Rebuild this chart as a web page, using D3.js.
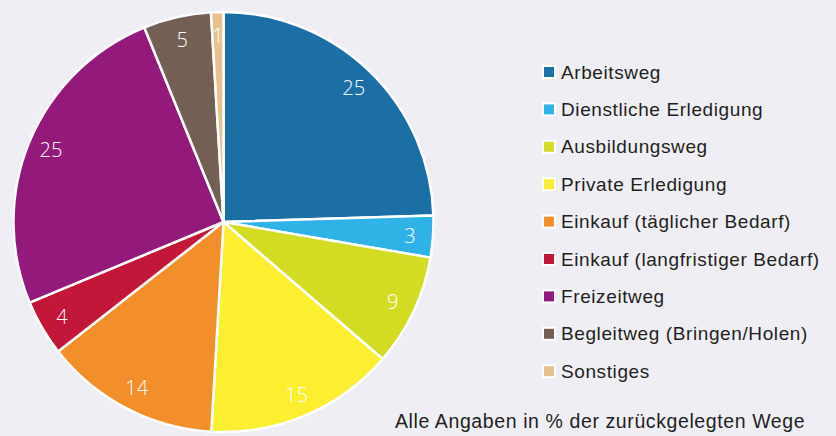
<!DOCTYPE html>
<html><head><meta charset="utf-8">
<script src="https://cdn.jsdelivr.net/npm/d3@7"></script>
<style>
html,body{margin:0;padding:0;background:#efeef5;}
svg{display:block;}
</style></head>
<body>
<script>
const categories = ["Arbeitsweg","Dienstliche Erledigung","Ausbildungsweg","Private Erledigung","Einkauf (täglicher Bedarf)","Einkauf (langfristiger Bedarf)","Freizeitweg","Begleitweg (Bringen/Holen)","Sonstiges"];
// slice shares (%)
const values = [24.5,3.2,8.6,14.6,13.5,4.3,25.1,5.2,0.95];
// displayed (rounded) labels
const labels = ["25","3","9","15","14","4","25","5","1"];
const colors = ["#1c6fa5","#2fb2e6","#d3db22","#fcee31","#f38f2a","#c3173a","#93197b","#745f55","#e9c08f"];
const footnote = "Alle Angaben in % der zurückgelegten Wege";

const W = 836, H = 436;
const svg = d3.select("body").append("svg").attr("width", W).attr("height", H);
svg.append("rect").attr("width", W).attr("height", H).attr("fill", "#efeef5");

const cx = 223.5, cy = 222, R = 210;
const data = categories.map((c,i)=>({cat:c, value:values[i], label:labels[i], color:colors[i]}));
const pie = d3.pie().value(d=>d.value).sort(null);
const arcs = pie(data);
const arc = d3.arc().innerRadius(0).outerRadius(R);
const labelArc = d3.arc().innerRadius(187).outerRadius(187);

const g = svg.append("g").attr("transform", `translate(${cx},${cy})`);
g.selectAll("path").data(arcs).join("path")
  .attr("d", arc).attr("fill", d=>d.data.color)
  .attr("stroke", "#ffffff").attr("stroke-width", 2.5).attr("stroke-linejoin","round");

g.selectAll("text.lbl").data(arcs).join("text").attr("class","lbl")
  .attr("transform", d=>`translate(${labelArc.centroid(d)})`)
  .attr("text-anchor","middle").attr("dominant-baseline","central")
  .attr("font-family","'Open Sans', sans-serif").attr("font-weight",300)
  .attr("font-size",20).attr("fill","#ffffff")
  .text(d=>d.data.label);

const leg = svg.append("g").attr("transform","translate(543,72)");
const rowH = 37.4;
const items = leg.selectAll("g").data(data).join("g")
  .attr("transform",(d,i)=>`translate(0,${i*rowH})`);
items.append("rect").attr("x",0).attr("y",-6).attr("width",12).attr("height",12)
  .attr("fill",d=>d.color).attr("stroke","#ffffff").attr("stroke-width",2);
items.append("text").attr("x",18).attr("y",0).attr("dominant-baseline","central")
  .attr("font-family","'Liberation Sans', Arial, sans-serif").attr("font-size",19)
  .attr("letter-spacing","0.6px")
  .attr("fill","#231f20").text(d=>d.cat);

svg.append("text").attr("x",395).attr("y",428)
  .attr("font-family","'Liberation Sans', Arial, sans-serif").attr("font-size",19.5)
  .attr("letter-spacing","0.6px")
  .attr("fill","#231f20").text(footnote);
</script>
</body></html>
